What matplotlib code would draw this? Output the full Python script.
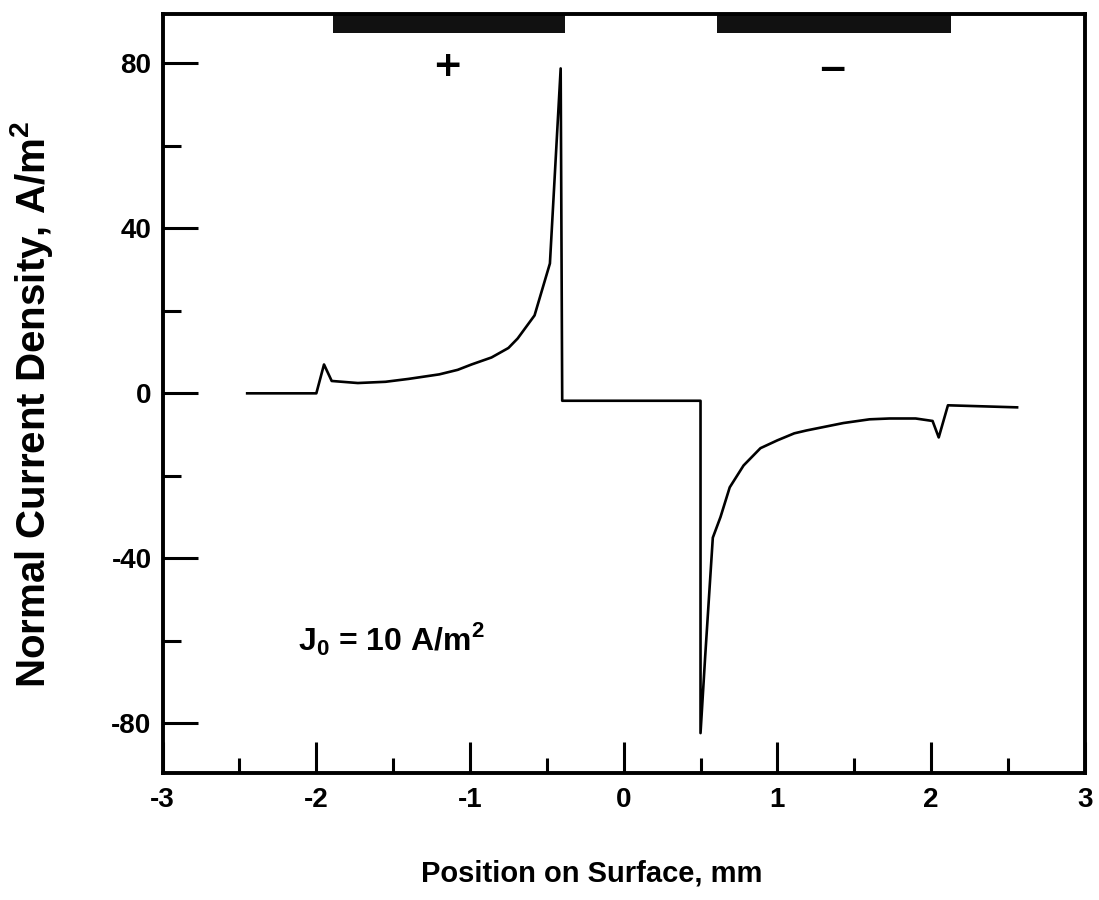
import matplotlib
matplotlib.use('Agg')
import matplotlib.pyplot as plt
from matplotlib.ticker import MultipleLocator

plt.rcParams['font.family'] = ['Liberation Sans', 'DejaVu Sans']
plt.rcParams['font.weight'] = 'bold'
plt.rcParams['axes.unicode_minus'] = False
plt.rcParams['mathtext.fontset'] = 'custom'
plt.rcParams['mathtext.rm'] = 'Liberation Sans:bold'
plt.rcParams['mathtext.bf'] = 'Liberation Sans:bold'

# current density along the surface
pos_mm = [-2.45, -2.00, -1.95, -1.90, -1.73, -1.55, -1.40, -1.20, -1.08, -0.99,
          -0.86, -0.75, -0.69, -0.58, -0.48, -0.41, -0.40, 0.50, 0.50, 0.53,
          0.58, 0.63, 0.69, 0.78, 0.89, 1.00, 1.11, 1.19, 1.43, 1.60,
          1.73, 1.90, 2.01, 2.05, 2.11, 2.56]
current = [0.0, 0.0, 7.0, 3.0, 2.5, 2.8, 3.5, 4.6, 5.7, 7.0,
           8.7, 11.0, 13.3, 18.9, 31.5, 78.8, -1.8, -1.8, -82.4, -64.0,
           -35.0, -30.0, -22.8, -17.5, -13.3, -11.4, -9.7, -9.0, -7.2, -6.3,
           -6.1, -6.1, -6.7, -10.7, -2.9, -3.4]

# electrodes drawn along the top edge
electrode_start = [-1.89, 0.61]
electrode_end = [-0.38, 2.13]
electrode_sign = ['+', '\u2212']
sign_x = [-1.15, 1.36]
sign_y = [79.5, 78.5]

fig = plt.figure(figsize=(10.99, 9.0), dpi=100)
ax = fig.add_axes([0.148, 0.141, 0.839, 0.843])

ax.plot(pos_mm, current, color='black', lw=1.9)

ymax = 91.9
for x0, x1 in zip(electrode_start, electrode_end):
    ax.fill_between([x0, x1], ymax - 4.4, ymax, color='#111111', lw=0)
for s, x, y in zip(electrode_sign, sign_x, sign_y):
    ax.text(x, y, s, ha='center', va='center', fontsize=26,
            fontweight='bold', family='DejaVu Sans')

ax.text(-2.12, -62.3, 'J$_{0}$ = 10 A/m$^{2}$', fontsize=23,
        fontweight='bold', ha='left', va='baseline')

ax.set_xlim(-3, 3)
ax.set_ylim(-92.1, ymax)
ax.xaxis.set_major_locator(MultipleLocator(1))
ax.xaxis.set_minor_locator(MultipleLocator(0.5))
ax.yaxis.set_major_locator(MultipleLocator(40))
ax.yaxis.set_minor_locator(MultipleLocator(20))
ax.tick_params(which='both', direction='in', top=False, right=False,
               width=2.2, labelsize=20)
ax.tick_params(axis='x', which='major', length=22, pad=10)
ax.tick_params(axis='x', which='minor', length=11)
ax.tick_params(axis='y', which='major', length=25, pad=8)
ax.tick_params(axis='y', which='minor', length=13)
for lab in ax.get_xticklabels() + ax.get_yticklabels():
    lab.set_fontweight('bold')
for sp in ax.spines.values():
    sp.set_linewidth(2.8)

fig.text(592 / 1099, 1 - 874 / 900, 'Position on Surface, mm', fontsize=21,
         fontweight='bold', ha='center', va='center')
fig.text(32 / 1099, 1 - 404 / 900, 'Normal Current Density, A/m$^{2}$',
         fontsize=29, fontweight='bold', rotation=90, ha='center', va='center')

fig.savefig('out.png', dpi=100)
